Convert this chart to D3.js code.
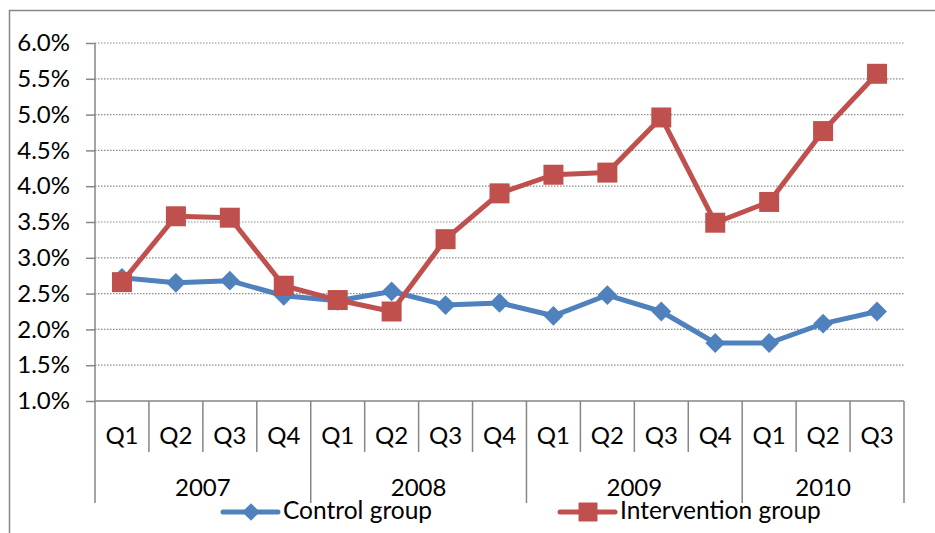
<!DOCTYPE html>
<html lang="en">
<head>
    <meta charset="UTF-8">
    <title>Control vs intervention group</title>
    <style>
        body {
            margin: 0;
            padding: 0;
            background: white;
        }
        #chart text {
            font-family: Lato, "Open Sans", sans-serif;
            fill: #000;
        }
        .grid line {
            stroke: #8c8c8c;
            stroke-width: 1.2;
            stroke-dasharray: 1.5 1.5;
        }
        .axis-line {
            stroke: #868686;
            stroke-width: 1.5;
        }
    </style>
</head>
<body>
    <div id="chart"></div>

    <script src="https://d3js.org/d3.v7.min.js"></script>
    <script>
        // data
        const years = ["2007", "2008", "2009", "2010"];
        const quarters = ["Q1", "Q2", "Q3", "Q4", "Q1", "Q2", "Q3", "Q4", "Q1", "Q2", "Q3", "Q4", "Q1", "Q2", "Q3"];
        const quarterYear = ["2007", "2007", "2007", "2007", "2008", "2008", "2008", "2008", "2009", "2009", "2009", "2009", "2010", "2010", "2010"];
        const controlGroup = [2.72, 2.65, 2.68, 2.47, 2.40, 2.53, 2.34, 2.37, 2.19, 2.48, 2.25, 1.81, 1.81, 2.08, 2.25];
        const interventionGroup = [2.66, 3.58, 3.56, 2.61, 2.41, 2.25, 3.26, 3.90, 4.16, 4.19, 4.96, 3.49, 3.78, 4.77, 5.57];
        const yTicks = [1.0, 1.5, 2.0, 2.5, 3.0, 3.5, 4.0, 4.5, 5.0, 5.5, 6.0];

        const width = 935, height = 533;
        const plotLeft = 95, plotRight = 904, plotTop = 43, plotBottom = 401;
        const fontSize = "24px";

        const svg = d3.select("#chart").append("svg")
            .attr("width", width)
            .attr("height", height);

        // outer frame
        svg.append("rect")
            .attr("x", 9.5).attr("y", 10.5)
            .attr("width", width + 10).attr("height", height + 10)
            .attr("fill", "none")
            .attr("stroke", "#868686")
            .attr("stroke-width", 1.5);

        const idx = d3.range(quarters.length);
        const x = d3.scaleBand().domain(idx).range([plotLeft, plotRight]);
        const y = d3.scaleLinear().domain([1, 6]).range([plotBottom, plotTop]);

        // gridlines
        svg.append("g")
            .attr("class", "grid")
            .selectAll("line")
            .data(yTicks.slice(1))
            .enter().append("line")
            .attr("x1", plotLeft).attr("x2", plotRight)
            .attr("y1", d => y(d)).attr("y2", d => y(d));

        // y axis
        const yAxis = svg.append("g")
            .attr("transform", `translate(${plotLeft},0)`)
            .call(d3.axisLeft(y).tickValues(yTicks).tickFormat(d => d.toFixed(1) + "%").tickSize(9).tickPadding(16));
        yAxis.select(".domain").remove();
        yAxis.selectAll(".tick line").attr("stroke", "#868686").attr("stroke-width", 1.5);
        yAxis.selectAll(".tick text").style("font-size", fontSize);
        svg.append("line").attr("class", "axis-line")
            .attr("x1", plotLeft).attr("x2", plotLeft).attr("y1", plotTop).attr("y2", 503);

        // x axis (two levels)
        svg.append("line").attr("class", "axis-line")
            .attr("x1", plotLeft).attr("x2", plotRight).attr("y1", plotBottom).attr("y2", plotBottom);

        // quarter separators
        svg.append("g").selectAll("line")
            .data(idx.slice(1).filter(i => quarterYear[i] === quarterYear[i - 1]))
            .enter().append("line")
            .attr("class", "axis-line")
            .attr("x1", i => x(i)).attr("x2", i => x(i))
            .attr("y1", plotBottom).attr("y2", 452);

        // year separators
        const yearStart = years.map(yr => quarterYear.indexOf(yr));
        const yearEnd = years.map(yr => quarterYear.lastIndexOf(yr));
        svg.append("g").selectAll("line")
            .data(yearStart.slice(1).concat([quarters.length]))
            .enter().append("line")
            .attr("class", "axis-line")
            .attr("x1", i => i < quarters.length ? x(i) : plotRight)
            .attr("x2", i => i < quarters.length ? x(i) : plotRight)
            .attr("y1", plotBottom).attr("y2", 503);

        svg.append("g").selectAll("text")
            .data(idx)
            .enter().append("text")
            .attr("x", i => x(i) + x.bandwidth() / 2)
            .attr("y", 444)
            .attr("text-anchor", "middle")
            .style("font-size", fontSize)
            .text(i => quarters[i]);

        svg.append("g").selectAll("text")
            .data(years)
            .enter().append("text")
            .attr("x", (d, k) => (x(yearStart[k]) + x(yearEnd[k]) + x.bandwidth()) / 2)
            .attr("y", 496)
            .attr("text-anchor", "middle")
            .style("font-size", fontSize)
            .text(d => d);

        // lines
        const line = d3.line()
            .x((d, i) => x(i) + x.bandwidth() / 2)
            .y(d => y(d));

        const blue = "#4F81BD", red = "#C0504D";

        svg.append("path")
            .datum(controlGroup)
            .attr("fill", "none")
            .attr("stroke", blue)
            .attr("stroke-width", 5)
            .attr("stroke-linejoin", "round")
            .attr("d", line);

        svg.append("path")
            .datum(interventionGroup)
            .attr("fill", "none")
            .attr("stroke", red)
            .attr("stroke-width", 5)
            .attr("stroke-linejoin", "round")
            .attr("d", line);

        const diamond = d3.symbol().type(d3.symbolDiamond2).size(250);
        const square = d3.symbol().type(d3.symbolSquare).size(400);

        svg.append("g").selectAll("path")
            .data(controlGroup)
            .enter().append("path")
            .attr("d", diamond)
            .attr("fill", blue)
            .attr("transform", (d, i) => `translate(${x(i) + x.bandwidth() / 2},${y(d)})`);

        svg.append("g").selectAll("path")
            .data(interventionGroup)
            .enter().append("path")
            .attr("d", square)
            .attr("fill", red)
            .attr("transform", (d, i) => `translate(${x(i) + x.bandwidth() / 2},${y(d)})`);

        // legend
        const legend = [
            { name: "Control group", color: blue, sym: d3.symbol().type(d3.symbolDiamond2).size(200), x0: 223 },
            { name: "Intervention group", color: red, sym: d3.symbol().type(d3.symbolSquare).size(360), x0: 560 }
        ];
        const lg = svg.append("g").selectAll("g")
            .data(legend)
            .enter().append("g")
            .attr("transform", d => `translate(${d.x0},512)`);
        lg.append("line")
            .attr("x1", 0).attr("x2", 55)
            .attr("stroke", d => d.color)
            .attr("stroke-width", 5)
            .attr("stroke-linecap", "round");
        lg.append("path")
            .attr("d", d => d.sym())
            .attr("fill", d => d.color)
            .attr("transform", "translate(28,0)");
        lg.append("text")
            .attr("x", 60)
            .attr("y", 7)
            .style("font-size", "24.5px")
            .text(d => d.name);
    </script>
</body>
</html>
